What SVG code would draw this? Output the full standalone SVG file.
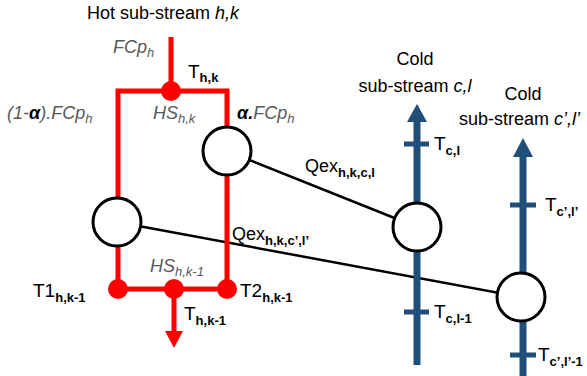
<svg xmlns="http://www.w3.org/2000/svg" width="587" height="376" viewBox="0 0 587 376">
<style>
text{font-family:"Liberation Sans",Arial,sans-serif;font-size:18px;fill:#000}
.g{fill:#595959;font-style:italic}
.t{font-size:19px}
.s{font-size:13px;font-weight:bold}
.gs{font-size:13px}
.hot{stroke:#FF0000;stroke-width:5;fill:none}
.cold{stroke:#1F4E79;stroke-width:7;fill:none}
.tick{stroke:#1F4E79;stroke-width:5}
.hx{fill:#fff;stroke:#000;stroke-width:3}
.conn{stroke:#000;stroke-width:2.5;fill:none}
.dot{fill:#FF0000}
.ah{fill:#1F4E79}
</style>

<g id="connectors">
<line class="conn" x1="227" y1="151" x2="417" y2="227"/>
<line class="conn" x1="117" y1="222" x2="521" y2="297"/>
</g>

<g id="hot-stream">
<line class="hot" x1="171" y1="37" x2="171" y2="91"/>
<path class="hot" d="M118,91 H227 V289 H118 Z"/>
<line class="hot" x1="174" y1="289" x2="174" y2="333"/>
<polygon class="dot" points="165,331 183,331 174,348"/>
<text x="87" y="19">Hot sub-stream <tspan font-style="italic">h,k</tspan></text>
<text class="g" x="113" y="53">FCp<tspan class="gs" dy="4">h</tspan></text>
</g>

<g id="split-HS-hk">
<circle class="dot" cx="171" cy="91" r="10"/>
<text class="t" x="188" y="78">T<tspan class="s" dy="4">h,k</tspan></text>
<text class="g" x="153" y="119">HS<tspan class="gs" dy="4">h,k</tspan></text>
<text class="g" x="7" y="119">(1-<tspan fill="#000" font-weight="bold">α</tspan>).FCp<tspan class="gs" dy="4">h</tspan></text>
<text class="g" x="237" y="119"><tspan fill="#000" font-weight="bold">α.</tspan>FCp<tspan class="gs" dy="4">h</tspan></text>
</g>

<g id="mix-HS-hk-1">
<circle class="dot" cx="118" cy="289" r="10"/>
<circle class="dot" cx="174" cy="289" r="10"/>
<circle class="dot" cx="227" cy="289" r="10"/>
<text class="g" x="150" y="272">HS<tspan class="gs" dy="4">h,k-1</tspan></text>
<text class="t" x="33" y="297">T1<tspan class="s" dy="5">h,k-1</tspan></text>
<text class="t" x="240" y="297">T2<tspan class="s" dy="5">h,k-1</tspan></text>
<text class="t" x="184" y="320">T<tspan class="s" dy="5">h,k-1</tspan></text>
</g>

<g id="cold-stream-cl">
<line class="cold" x1="417" y1="120" x2="417" y2="365"/>
<polygon class="ah" points="407,122 427,122 417,104"/>
<line class="tick" x1="404" y1="144" x2="429" y2="144"/>
<line class="tick" x1="404" y1="312" x2="429" y2="312"/>
<text x="415" y="65" text-anchor="middle">Cold</text>
<text x="415" y="92" text-anchor="middle">sub-stream <tspan font-style="italic">c,l</tspan></text>
<text class="t" x="434" y="150">T<tspan class="s" dy="5">c,l</tspan></text>
<text class="t" x="434" y="318">T<tspan class="s" dy="5">c,l-1</tspan></text>
</g>

<g id="cold-stream-c2l2">
<line class="cold" x1="523" y1="155" x2="523" y2="376"/>
<polygon class="ah" points="513,157 533,157 523,138"/>
<line class="tick" x1="510" y1="205" x2="536" y2="205"/>
<line class="tick" x1="510" y1="355" x2="536" y2="355"/>
<text x="523" y="100" text-anchor="middle">Cold</text>
<text x="459" y="125">sub-stream <tspan font-style="italic">c’,l’</tspan></text>
<text class="t" x="545" y="211">T<tspan class="s" dy="5">c’,l’</tspan></text>
<text class="t" x="538" y="361">T<tspan class="s" dy="5">c’,l’-1</tspan></text>
</g>

<g id="hx-hk-cl">
<circle class="hx" cx="227" cy="151" r="24"/>
<circle class="hx" cx="417" cy="227" r="24"/>
<text x="305" y="172">Qex<tspan class="s" dy="5">h,k,c,l</tspan></text>
</g>

<g id="hx-hk-c2l2">
<circle class="hx" cx="117" cy="222" r="24"/>
<circle class="hx" cx="521" cy="297" r="24"/>
<text x="232" y="240">Qex<tspan class="s" dy="5">h,k,c’,l’</tspan></text>
</g>
</svg>
